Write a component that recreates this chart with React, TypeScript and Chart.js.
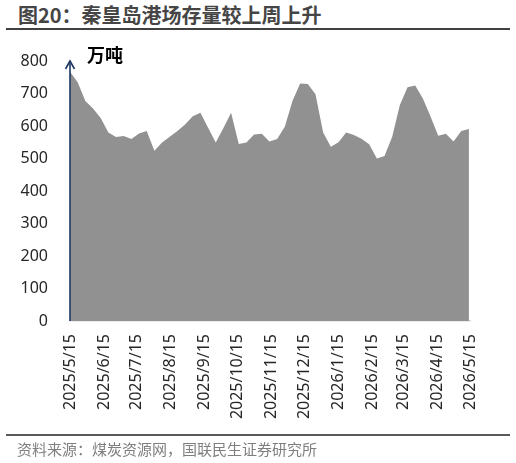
import React, { useEffect, useRef } from "react";
import { Chart, registerables } from "chart.js";

Chart.register(...registerables);

const weekDates: string[] = [
  "2025/5/15", "2025/5/22", "2025/5/29", "2025/6/5", "2025/6/12", "2025/6/19", "2025/6/26",
  "2025/7/3", "2025/7/10", "2025/7/17", "2025/7/24", "2025/7/31", "2025/8/7", "2025/8/14",
  "2025/8/21", "2025/8/28", "2025/9/4", "2025/9/11", "2025/9/18", "2025/9/25", "2025/10/2",
  "2025/10/9", "2025/10/16", "2025/10/23", "2025/10/30", "2025/11/6", "2025/11/13", "2025/11/20",
  "2025/11/27", "2025/12/4", "2025/12/11", "2025/12/18", "2025/12/25", "2026/1/1", "2026/1/8",
  "2026/1/15", "2026/1/22", "2026/1/29", "2026/2/5", "2026/2/12", "2026/2/19", "2026/2/26",
  "2026/3/5", "2026/3/12", "2026/3/19", "2026/3/26", "2026/4/2", "2026/4/9", "2026/4/16",
  "2026/4/23", "2026/4/30", "2026/5/7", "2026/5/14",
];

const stockValues: number[] = [
  767, 735, 677, 654, 625, 580, 566, 569, 560, 577, 585, 524, 549, 567, 585, 605, 630, 641,
  595, 549, 594, 641, 545, 549, 574, 576, 552, 560, 598, 677, 731, 729, 698, 580, 536, 550,
  580, 572, 561, 544, 500, 508, 567, 665, 719, 725, 685, 629, 570, 576, 552, 585, 591,
];

const tickLabels: string[] = [
  "2025/5/15", "2025/6/15", "2025/7/15", "2025/8/15", "2025/9/15", "2025/10/15", "2025/11/15",
  "2025/12/15", "2026/1/15", "2026/2/15", "2026/3/15", "2026/4/15", "2026/5/15",
];

const yTicks: number[] = [0, 100, 200, 300, 400, 500, 600, 700, 800];

const dayOf = (s: string): number => {
  const [y, m, d] = s.split("/").map(Number);
  return Date.UTC(y, m - 1, d) / 86400000;
};
const base = dayOf(tickLabels[0]);
const tickDays = tickLabels.map((t) => dayOf(t) - base);
const tickMap = new Map<number, string>(tickDays.map((d, i) => [d, tickLabels[i]]));

const TICK_FONT = '"Noto Sans", "Open Sans", sans-serif';
const CJK_FONT = '"Noto Sans CJK SC", "Noto Sans", sans-serif';

const arrowPlugin = {
  id: "axisArrow",
  afterDraw(chart: any) {
    const { ctx, chartArea } = chart;
    const x = chartArea.left;
    const top = chartArea.top;
    ctx.save();
    ctx.strokeStyle = "#1F3864";
    ctx.lineWidth = 1.6;
    ctx.beginPath();
    ctx.moveTo(x, chartArea.bottom);
    ctx.lineTo(x, top);
    ctx.stroke();
    ctx.beginPath();
    ctx.moveTo(x - 4.5, top + 8);
    ctx.lineTo(x, top);
    ctx.lineTo(x + 4.5, top + 8);
    ctx.stroke();
    ctx.restore();
  },
};

export default function App() {
  const ref = useRef<HTMLCanvasElement | null>(null);

  useEffect(() => {
    if (!ref.current) return;
    const chart = new Chart(ref.current, {
      type: "line",
      data: {
        datasets: [
          {
            data: weekDates.map((d, i) => ({ x: dayOf(d) - base, y: stockValues[i] })),
            fill: "origin",
            backgroundColor: "#919191",
            borderWidth: 0,
            pointRadius: 0,
            tension: 0,
          },
        ],
      },
      options: {
        animation: false,
        responsive: false,
        devicePixelRatio: 1,
        layout: { padding: { top: 61, right: 46, left: 0, bottom: 0 } },
        plugins: { legend: { display: false }, tooltip: { enabled: false }, title: { display: false } },
        scales: {
          x: {
            type: "linear",
            min: 0,
            max: tickDays[tickDays.length - 1],
            grid: { display: false, drawTicks: false },
            border: { display: true, color: "#d9d9d9", width: 1.5 },
            afterBuildTicks: (scale: any) => {
              scale.ticks = tickDays.map((v) => ({ value: v }));
            },
            afterFit: (scale: any) => {
              scale.height = 142;
            },
            ticks: {
              autoSkip: false,
              minRotation: 90,
              maxRotation: 90,
              padding: 13,
              color: "#262626",
              font: { family: TICK_FONT, size: 16 },
              callback: (v: any) => tickMap.get(Number(v)) ?? "",
            },
          },
          y: {
            min: 0,
            max: 800,
            grid: { display: false, drawTicks: false },
            border: { display: false },
            afterBuildTicks: (scale: any) => {
              scale.ticks = yTicks.map((v) => ({ value: v }));
            },
            afterFit: (scale: any) => {
              scale.width = 70;
            },
            ticks: {
              padding: 22,
              color: "#262626",
              font: { family: TICK_FONT, size: 16 },
            },
          },
        },
      },
      plugins: [arrowPlugin],
    });
    return () => chart.destroy();
  }, []);

  return (
    <div style={{ position: "absolute", left: 0, top: 0, width: 516, height: 463, background: "#fff" }}>
      <div
        style={{
          position: "absolute",
          left: 18,
          top: 1,
          fontFamily: CJK_FONT,
          fontWeight: 700,
          fontSize: 20,
          lineHeight: "27px",
          color: "#454545",
          whiteSpace: "nowrap",
        }}
      >
        图20：秦皇岛港场存量较上周上升
      </div>
      <div style={{ position: "absolute", left: 6, top: 28, width: 504, height: 2, background: "#404040" }} />
      <canvas ref={ref} width={516} height={463} style={{ position: "absolute", left: 0, top: 0, width: 516, height: 463 }} />
      <div
        style={{
          position: "absolute",
          left: 87,
          top: 41,
          fontFamily: CJK_FONT,
          fontWeight: 700,
          fontSize: 18,
          lineHeight: "26px",
          color: "#000",
          whiteSpace: "nowrap",
        }}
      >
        万吨
      </div>
      <div style={{ position: "absolute", left: 6, top: 434, width: 504, height: 2, background: "#595959" }} />
      <div
        style={{
          position: "absolute",
          left: 17,
          top: 439,
          fontFamily: CJK_FONT,
          fontSize: 15,
          lineHeight: "20px",
          color: "#7f7f7f",
          whiteSpace: "nowrap",
        }}
      >
        资料来源：煤炭资源网，国联民生证券研究所
      </div>
    </div>
  );
}
